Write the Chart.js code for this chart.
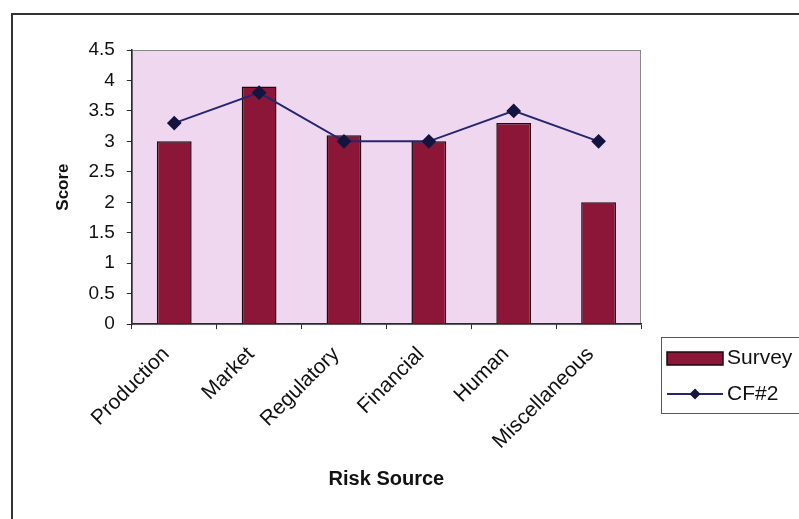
<!DOCTYPE html>
<html>
<head>
<meta charset="utf-8">
<title>Risk Source Scores</title>
<script src="https://cdn.jsdelivr.net/npm/chart.js@4/dist/chart.umd.min.js"></script>
<style>
  html, body { margin: 0; padding: 0; background: #ffffff; }
  #wrap { position: relative; width: 799px; height: 519px; }
</style>
</head>
<body>
<div id="wrap"><canvas id="chart" width="799" height="519"></canvas></div>
<script>
// Risk sources on the category axis
const categories = ['Production', 'Market', 'Regulatory', 'Financial', 'Human', 'Miscellaneous'];
// Survey scores (bars)
const surveyScores = [3.0, 3.9, 3.1, 3.0, 3.3, 2.0];
// CF#2 scores (line with diamond markers)
const cf2Scores = [3.3, 3.8, 3.0, 3.0, 3.5, 3.0];
// Value axis ticks
const scoreTicks = [0, 0.5, 1, 1.5, 2, 2.5, 3, 3.5, 4, 4.5];

const FONT = "'Liberation Sans', Arial, Helvetica, sans-serif";
const BAR_FILL = '#8c1638';
const BAR_EDGE = '#1e0810';
const LINE_COLOR = '#262670';
const MARKER_COLOR = '#141440';
const PLOT_BG = '#efd8ef';
const AXIS_COLOR = '#2a2a2a';

// Page frame, plot background and the boxed legend on the right
const decorations = {
  id: 'decorations',
  beforeDraw(chart) {
    const { ctx, chartArea: a } = chart;
    ctx.save();
    ctx.fillStyle = '#ffffff';
    ctx.fillRect(0, 0, chart.width, chart.height);
    ctx.strokeStyle = '#333333';
    ctx.lineWidth = 2;
    ctx.strokeRect(12, 14, chart.width + 40, chart.height + 40);
    ctx.fillStyle = PLOT_BG;
    ctx.fillRect(a.left, a.top, a.right - a.left, a.bottom - a.top);
    ctx.strokeStyle = '#8a8a8a';
    ctx.lineWidth = 1;
    ctx.strokeRect(a.left + 0.5, a.top + 0.5, a.right - a.left - 1, a.bottom - a.top);
    ctx.restore();
  },
  afterDraw(chart) {
    const { ctx, chartArea: a } = chart;
    const ds = chart.data.datasets;
    const x0 = a.right + 20, y0 = 337, w = 142, h = 76;
    ctx.save();
    ctx.fillStyle = '#ffffff';
    ctx.fillRect(x0, y0, w, h);
    ctx.strokeStyle = '#555555';
    ctx.lineWidth = 1;
    ctx.strokeRect(x0 + 0.5, y0 + 0.5, w, h);
    ctx.font = '21px ' + FONT;
    ctx.textBaseline = 'middle';
    const sx = x0 + 6, sw = 56;
    // bar series swatch
    const bar = ds.find(d => d.type === 'bar');
    ctx.fillStyle = bar.backgroundColor;
    ctx.fillRect(sx, y0 + 15, sw, 13);
    ctx.strokeStyle = bar.borderColor;
    ctx.lineWidth = 1.5;
    ctx.strokeRect(sx, y0 + 15, sw, 13);
    ctx.fillStyle = '#111111';
    ctx.fillText(bar.label, sx + sw + 4, y0 + 21);
    // line series swatch
    const line = ds.find(d => d.type === 'line');
    const ly = y0 + 57;
    ctx.strokeStyle = line.borderColor;
    ctx.lineWidth = 2;
    ctx.beginPath();
    ctx.moveTo(sx, ly);
    ctx.lineTo(sx + sw, ly);
    ctx.stroke();
    ctx.fillStyle = line.pointBackgroundColor;
    const cx = sx + sw / 2, r = 5.5;
    ctx.beginPath();
    ctx.moveTo(cx, ly - r); ctx.lineTo(cx + r, ly); ctx.lineTo(cx, ly + r); ctx.lineTo(cx - r, ly);
    ctx.closePath();
    ctx.fill();
    ctx.fillStyle = '#111111';
    ctx.fillText(line.label, sx + sw + 4, ly);
    ctx.restore();
  }
};

new Chart(document.getElementById('chart'), {
  type: 'bar',
  data: {
    labels: categories,
    datasets: [
      {
        type: 'bar',
        label: 'Survey',
        data: surveyScores,
        backgroundColor: BAR_FILL,
        borderColor: BAR_EDGE,
        borderWidth: 1.5,
        categoryPercentage: 1,
        barPercentage: 0.41,
        order: 1
      },
      {
        type: 'line',
        label: 'CF#2',
        data: cf2Scores,
        borderColor: LINE_COLOR,
        borderWidth: 2,
        pointStyle: 'rectRot',
        pointRadius: 6,
        pointBackgroundColor: MARKER_COLOR,
        pointBorderColor: MARKER_COLOR,
        tension: 0,
        order: 0
      }
    ]
  },
  options: {
    responsive: false,
    animation: false,
    layout: { padding: { left: 40, right: 158, top: 50, bottom: 18 } },
    plugins: {
      legend: { display: false },
      tooltip: { enabled: false },
      title: { display: false }
    },
    scales: {
      x: {
        offset: true,
        grid: { display: true, drawOnChartArea: false, drawTicks: true, tickLength: 5, color: AXIS_COLOR, offset: true },
        border: { display: true, color: AXIS_COLOR, width: 1.5 },
        ticks: {
          color: '#111111',
          font: { family: FONT, size: 21 },
          minRotation: 45, maxRotation: 45,
          padding: 13,
          labelOffset: -8,
          autoSkip: false
        },
        title: {
          display: true,
          text: 'Risk Source',
          color: '#111111',
          font: { family: FONT, size: 20, weight: 'bold' },
          padding: { top: 0, bottom: 10 }
        }
      },
      y: {
        min: 0,
        max: 4.5,
        afterBuildTicks(scale) { scale.ticks = scoreTicks.map(v => ({ value: v })); },
        grid: { display: true, drawOnChartArea: false, drawTicks: true, tickLength: 5, color: AXIS_COLOR },
        border: { display: true, color: AXIS_COLOR, width: 1.5 },
        ticks: {
          color: '#111111',
          font: { family: FONT, size: 19 },
          padding: 12,
          callback: v => String(v)
        },
        title: {
          display: true,
          text: 'Score',
          color: '#111111',
          font: { family: FONT, size: 17, weight: 'bold' },
          padding: { top: 13, bottom: 3 }
        }
      }
    }
  },
  plugins: [decorations]
});
</script>
</body>
</html>
